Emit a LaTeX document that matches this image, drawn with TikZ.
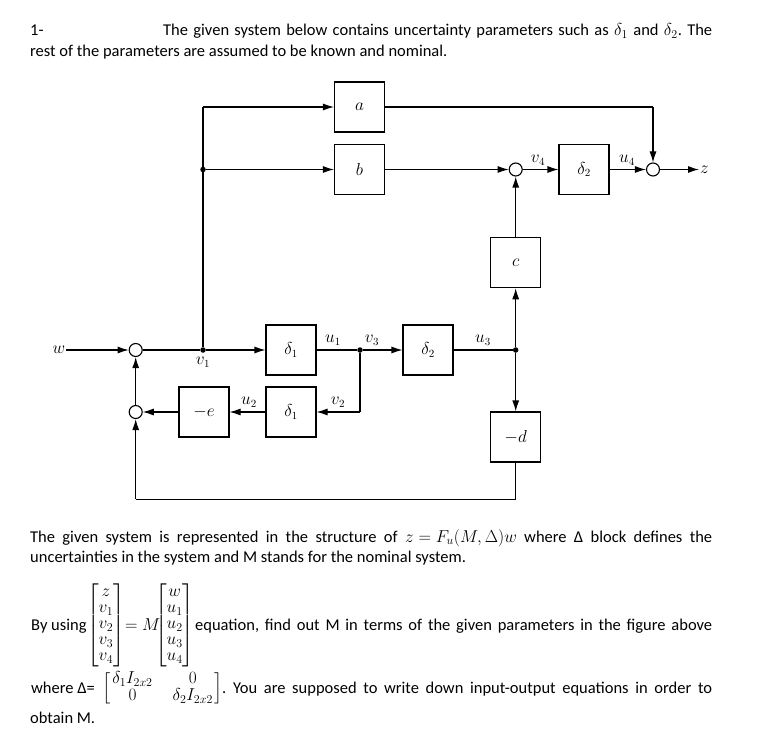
\documentclass[tikz,border=0pt]{standalone}
\usepackage{amsmath}
\usepackage{fontspec}
\setmainfont{Carlito}
\usetikzlibrary{arrows.meta}
\newcommand{\tightarr}{\renewcommand{\arraystretch}{0.8}}
\thickmuskip=5mu
\medmuskip=4mu
\frenchspacing
\begin{document}
\begin{tikzpicture}[x=1pt,y=-1pt,
  blk/.style={draw, line width=1.1pt, minimum width=50pt, minimum height=50pt, inner sep=0pt, font=\fontsize{16}{18}\selectfont},
  sumc/.style={draw, circle, line width=1.1pt, minimum size=13pt, inner sep=0pt, fill=white},
  dotn/.style={circle, fill, inner sep=0pt, minimum size=5.5pt},
  con/.style={line width=1.1pt},
  arr/.style={con, -{Latex[length=11pt,width=7pt]}},
  lbl/.style={font=\fontsize{16}{18}\selectfont, inner sep=1pt},
  txt/.style={font=\fontsize{16.5}{20}\selectfont, inner sep=0pt, anchor=base west}
]
\useasboundingbox (0,0) rectangle (757,746);
% blocks
\node[blk] (a) at (359.5,107) {$a$};
\node[blk] (b) at (359.5,169.5) {$b$};
\node[blk] (d2t) at (584,169.5) {$\delta_2$};
\node[blk] (c) at (515.7,262.7) {$c$};
\node[blk] (d1t) at (291,350) {$\delta_1$};
\node[blk] (d2m) at (428,350) {$\delta_2$};
\node[blk] (d1b) at (291,412) {$\delta_1$};
\node[blk] (me) at (204,412) {$-e$};
\node[blk] (md) at (515.7,437) {$-d$};
% summing junctions
\node[sumc] (s1) at (135.7,350) {};
\node[sumc] (s2) at (135.7,412) {};
\node[sumc] (s3) at (515.7,169.5) {};
\node[sumc] (s4) at (653,169.5) {};
% branch points
\node[dotn] (pv1) at (203,350) {};
\node[dotn] (pb) at (203,169.5) {};
\node[dotn] (pv3) at (360,350) {};
\node[dotn] (pu3) at (515.7,350) {};
% terminals
\node[lbl] (w) at (59,350) {$w$};
\node[lbl, anchor=west] (z) at (699,169.5) {$z$};
\coordinate (ca) at (203,107);
\coordinate (ca2) at (653,107);
\coordinate (cv2) at (360,412);
\coordinate (cbr) at (515.7,499.3);
\coordinate (cbl) at (135.7,499.3);
% connectors
\draw[arr] (w) -- (s1);
\draw[con] (s1) -- (pv1);
\draw[arr] (pv1) -- (d1t);
\draw[con] (pv1) -- (pb) -- (ca);
\draw[arr] (ca) -- (a);
\draw[arr] (pb) -- (b);
\draw[con] (a) -- (ca2);
\draw[arr] (ca2) -- (s4);
\draw[arr] (b) -- (s3);
\draw[arr] (s3) -- (d2t);
\draw[arr] (d2t) -- (s4);
\draw[arr] (s4) -- (z);
\draw[con] (d1t) -- (pv3);
\draw[arr] (pv3) -- (d2m);
\draw[con] (pv3) -- (cv2);
\draw[arr] (cv2) -- (d1b);
\draw[arr] (d1b) -- (me);
\draw[arr] (me) -- (s2);
\draw[arr] (s2) -- (s1);
\draw[con] (d2m) -- (pu3);
\draw[arr] (pu3) -- (c);
\draw[arr] (c) -- (s3);
\draw[arr] (pu3) -- (md);
\draw[con] (md) -- (cbr) -- (cbl);
\draw[arr] (cbl) -- (s2);
% signal labels
\node[lbl] (lv1) at (203,362) {$v_1$};
\node[lbl] (lu1) at (333,340) {$u_1$};
\node[lbl] (lv3) at (372,340) {$v_3$};
\node[lbl] (lu3) at (483,340) {$u_3$};
\node[lbl] (lv2) at (338,402) {$v_2$};
\node[lbl] (lu2) at (249,402) {$u_2$};
\node[lbl] (lv4) at (538,160) {$v_4$};
\node[lbl] (lu4) at (627,160) {$u_4$};
% text
\node[txt] (t1a) at (30,36) {1-};
\node[txt] (t1b) at (163,36) {\makebox[549pt][s]{The given system below contains uncertainty parameters such as $\delta_1$ and $\delta_2$. The}};
\node[txt] (t2) at (30,57) {rest of the parameters are assumed to be known and nominal.};
\node[txt] (p1) at (30,542) {\makebox[682pt][s]{The given system is represented in the structure of $z=F_u(M,\Delta)w$ where Δ block defines the}};
\node[txt] (p2) at (30,562) {uncertainties in the system and M stands for the nominal system.};
\node[txt] (eqa) at (31,630) {By using};
\node[txt] (eqm1) at (87,630) {\tightarr$\left[\begin{array}{@{}c@{}} z\\ v_1\\ v_2\\ v_3\\ v_4\end{array}\right]$};
\node[txt] (eqeq) at (125,630) {$=$};
\node[txt] (eqM) at (142,630) {$M$};
\node[txt] (eqm2) at (155,630) {\tightarr$\left[\begin{array}{@{}c@{}} w\\ u_1\\ u_2\\ u_3\\ u_4\end{array}\right]$};
\node[txt] (eqb) at (195,630) {\makebox[517pt][s]{equation, find out M in terms of the given parameters in the figure above}};
\node[txt] (wha) at (31,693) {where Δ=};
\node[txt] (whm) at (102,693) {\tightarr$\left[\begin{array}{@{\hspace{2pt}}c@{\hspace{20pt}}c@{\hspace{2pt}}}\delta_1 I_{2x2} & 0\\ 0 & \delta_2 I_{2x2}\end{array}\right]$};
\node[txt] (whb) at (222,693) {\makebox[490pt][s]{. You are supposed to write down input-output equations in order to}};
\node[txt] (ob) at (30,723) {obtain M.};
\end{tikzpicture}
\end{document}
